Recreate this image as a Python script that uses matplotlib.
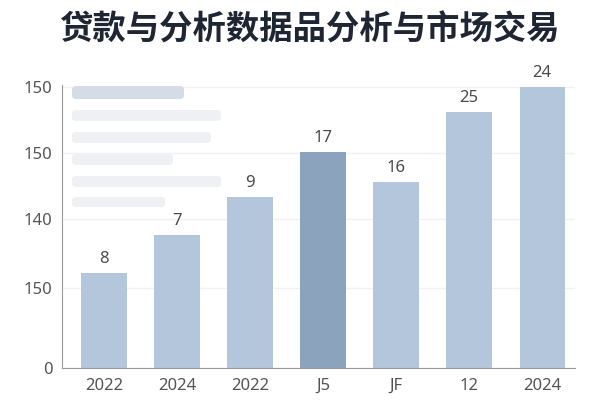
import matplotlib.pyplot as plt
from matplotlib.patches import FancyBboxPatch

plt.rcParams['font.family'] = ['Noto Sans', 'Noto Sans CJK SC', 'DejaVu Sans']

title = "贷款与分析数据品分析与市场交易"
categories = ["2022", "2024", "2022", "J5", "JF", "12", "2024"]
heights = [95, 133, 171, 216, 186, 256, 281]
bar_labels = ["8", "7", "9", "17", "16", "25", "24"]
highlight = [False, False, False, True, False, False, False]
ytick_pos = [0, 80, 149, 215, 281]
ytick_labels = ["0", "150", "140", "150", "150"]

fig = plt.figure(figsize=(6, 4), dpi=100)
ax = fig.add_axes([62 / 600, 32 / 400, 513 / 600, 283 / 400])

colors = ["#8ca3be" if h else "#b4c6dc" for h in highlight]
x = range(len(categories))
bars = ax.bar(x, heights, width=0.62, color=colors, zorder=2)
for b, lab in zip(bars, bar_labels):
    ax.text(b.get_x() + b.get_width() / 2, b.get_height() + 6, lab,
            ha="center", va="bottom", fontsize=12, color="#4a4a4a")

ax.set_xlim(-0.575, len(categories) - 0.55)
ax.set_ylim(0, 283)
ax.set_xticks(list(x))
ax.set_xticklabels(categories, fontsize=12, color="#555555")
ax.set_yticks(ytick_pos)
ax.set_yticklabels(ytick_labels, fontsize=12, color="#555555")
ax.tick_params(length=0, pad=7)
ax.grid(axis="y", color="#f1f1f1", linewidth=1, zorder=0)
for s in ["top", "right"]:
    ax.spines[s].set_visible(False)
ax.spines["left"].set_color("#999999")
ax.spines["bottom"].set_color("#999999")

# faded legend placeholder bars
legend_rows = [(72, 86, 112, 13, "#d6dce7"), (72, 110, 149, 11, "#eef0f4"),
               (72, 132, 139, 11, "#eef0f4"), (72, 154, 101, 11, "#eef0f4"),
               (72, 176, 149, 11, "#eef0f4"), (72, 197, 93, 10, "#eef0f4")]
for lx, ly, lw, lh, lc in legend_rows:
    fig.patches.append(FancyBboxPatch((lx / 600, 1 - (ly + lh) / 400), lw / 600, lh / 400,
                                      boxstyle="round,pad=0,rounding_size=0.008",
                                      transform=fig.transFigure, facecolor=lc,
                                      edgecolor="none", zorder=3))

fig.text(0.515, 0.925, title, ha="center", va="center", fontsize=24,
         fontweight="bold", color="#1f2633", family=['Noto Sans CJK SC', 'DejaVu Sans'])

fig.savefig("out.png", dpi=100)
